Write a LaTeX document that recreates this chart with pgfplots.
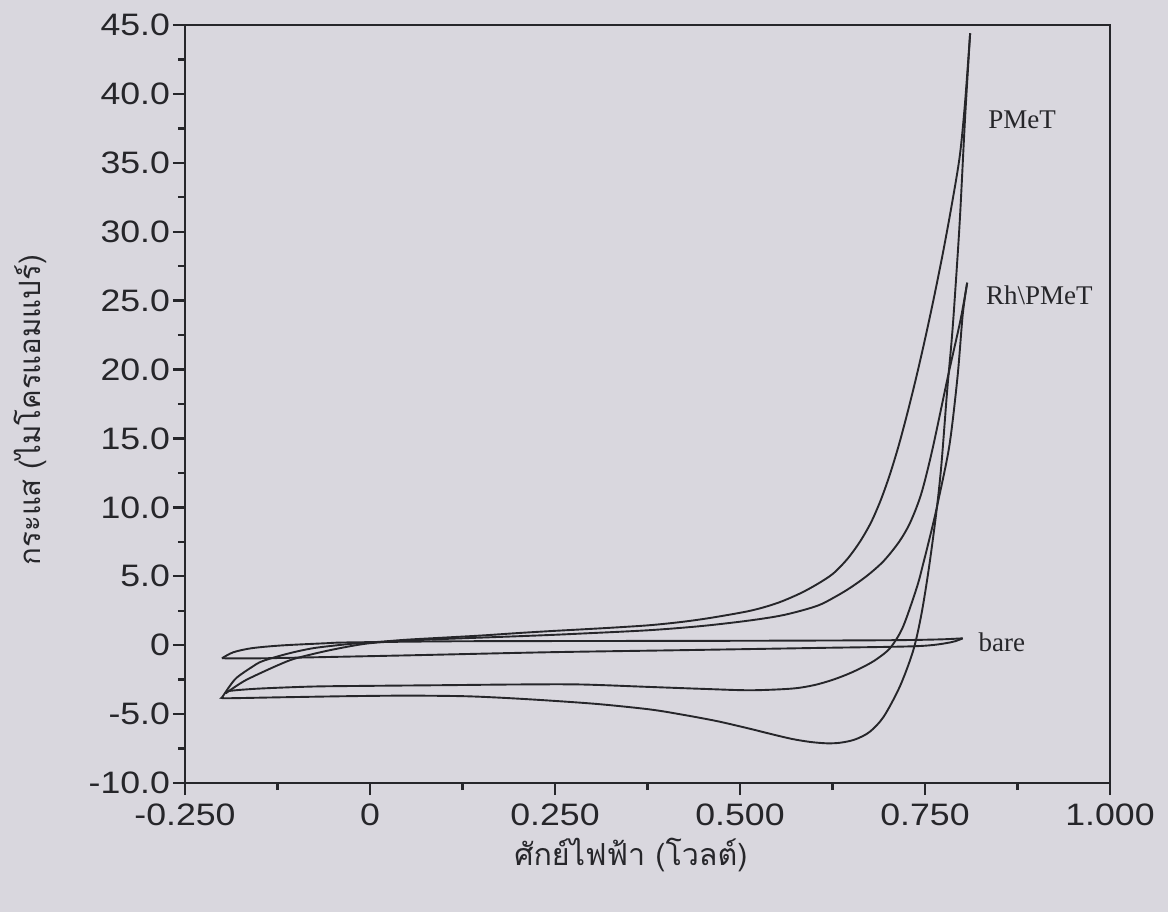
\documentclass[border=0pt]{standalone}
\usepackage{fontspec}
\usepackage{pgfplots}
\pgfplotsset{compat=1.18}
\setmainfont{Liberation Serif}
\newfontfamily\tickfont{Liberation Sans}[FakeStretch=1.15]
\newfontfamily\thaifont[Script=Thai]{Loma}
\definecolor{paper}{RGB}{217,215,222}
\definecolor{ink}{RGB}{38,38,42}

% PMeT: forward and reverse scans
\pgfplotstableread{
x y
-0.200 -3.80
-0.190 -3.00
-0.180 -2.35
-0.160 -1.60
-0.145 -1.15
-0.110 -0.60
-0.077 -0.22
-0.040 0.02
-0.014 0.15
0.014 0.25
0.050 0.40
0.100 0.55
0.150 0.70
0.200 0.88
0.243 1.02
0.284 1.14
0.330 1.28
0.378 1.45
0.420 1.68
0.460 1.98
0.514 2.50
0.550 3.05
0.581 3.75
0.605 4.45
0.626 5.20
0.645 6.25
0.662 7.50
0.677 8.90
0.690 10.50
0.702 12.30
0.714 14.40
0.726 16.80
0.738 19.40
0.750 22.20
0.762 25.20
0.774 28.40
0.786 31.90
0.797 35.50
0.804 39.30
0.811 44.40
}\pmetf
\pgfplotstableread{
x y
0.811 44.40
0.804 38.10
0.797 30.80
0.790 25.00
0.786 22.10
0.780 18.50
0.772 13.00
0.765 9.50
0.755 5.50
0.745 2.20
0.734 -0.40
0.716 -3.00
0.694 -5.20
0.675 -6.30
0.655 -6.85
0.635 -7.08
0.617 -7.12
0.595 -7.02
0.570 -6.80
0.540 -6.42
0.510 -6.02
0.468 -5.50
0.420 -5.02
0.378 -4.66
0.310 -4.28
0.243 -4.02
0.180 -3.82
0.126 -3.70
0.050 -3.66
-0.030 -3.70
-0.120 -3.78
-0.193 -3.85
-0.200 -3.80
}\pmetr

% Rh\PMeT: forward and reverse scans
\pgfplotstableread{
x y
-0.195 -3.50
-0.190 -3.30
-0.170 -2.60
-0.145 -1.95
-0.120 -1.35
-0.100 -0.95
-0.054 -0.36
-0.004 0.12
0.050 0.33
0.100 0.45
0.150 0.55
0.200 0.65
0.243 0.74
0.284 0.84
0.378 1.09
0.450 1.40
0.514 1.80
0.560 2.20
0.604 2.85
0.630 3.55
0.650 4.20
0.672 5.05
0.694 6.10
0.715 7.50
0.730 8.90
0.745 11.00
0.760 14.20
0.781 19.50
0.798 23.60
0.807 26.30
}\rhf
\pgfplotstableread{
x y
0.807 26.30
0.801 24.00
0.794 19.50
0.783 14.50
0.768 10.50
0.760 8.60
0.748 6.00
0.739 4.20
0.720 1.30
0.703 -0.20
0.685 -1.00
0.671 -1.45
0.650 -2.00
0.626 -2.50
0.600 -2.90
0.570 -3.15
0.514 -3.27
0.450 -3.17
0.378 -3.03
0.284 -2.85
0.200 -2.85
0.104 -2.90
0.000 -2.95
-0.077 -3.00
-0.150 -3.15
-0.190 -3.32
-0.195 -3.50
}\rhr

% bare electrode
\pgfplotstableread{
x y
-0.200 -0.95
-0.185 -0.52
-0.160 -0.22
-0.120 -0.02
-0.060 0.14
-0.030 0.20
0.104 0.28
0.243 0.30
0.500 0.32
0.700 0.36
0.770 0.42
0.801 0.50
}\baref
\pgfplotstableread{
x y
0.801 0.50
0.784 0.20
0.739 -0.07
0.604 -0.20
0.423 -0.36
0.243 -0.51
0.058 -0.73
-0.050 -0.85
-0.145 -0.95
-0.200 -0.95
}\barer

\begin{document}
\begin{tikzpicture}
\fill[paper] (-92.5pt,-64.5pt) rectangle (491.5pt,391.5pt);
\begin{axis}[
  scale only axis, width=462.5pt, height=379pt,
  at={(0,0)}, anchor=south west,
  xmin=-0.25, xmax=1.0, ymin=-10, ymax=45,
  axis line style={ink, line width=1.3pt},
  xtick={-0.25,0,0.25,0.5,0.75,1.0},
  xticklabels={-0.250,0,0.250,0.500,0.750,1.000},
  ytick={-10,-5,0,5,10,15,20,25,30,35,40,45},
  yticklabels={-10.0,-5.0,0,5.0,10.0,15.0,20.0,25.0,30.0,35.0,40.0,45.0},
  minor x tick num=1, minor y tick num=1,
  tick align=outside, xtick pos=bottom, ytick pos=left,
  major tick length=6pt, minor tick length=3.5pt,
  every tick/.style={ink, line width=1.2pt},
  ticklabel style={font=\tickfont\fontsize{15.5}{17}\selectfont, text=ink},
  xticklabel style={yshift=-1pt},
  yticklabel style={xshift=2pt},
  xlabel={\thaifont ศักย์ไฟฟ้า (โวลต์)},
  ylabel={\thaifont กระแส (ไมโครแอมแปร์)},
  xlabel style={at={(axis description cs:0.482,-0.095)}, anchor=center, font=\fontsize{15.2}{17}\selectfont, text=ink},
  ylabel style={at={(axis description cs:-0.167,0.492)}, anchor=center, font=\fontsize{14.7}{17}\selectfont, text=ink},
  clip=false,
]
\addplot[ink, line width=0.95pt, smooth, tension=0.5] table {\pmetf};
\addplot[ink, line width=0.95pt, smooth, tension=0.5] table {\pmetr};
\addplot[ink, line width=0.95pt, smooth, tension=0.5] table {\rhf};
\addplot[ink, line width=0.95pt, smooth, tension=0.5] table {\rhr};
\addplot[ink, line width=0.95pt, smooth, tension=0.5] table {\baref};
\addplot[ink, line width=0.95pt, smooth, tension=0.5] table {\barer};
\node[anchor=west, font=\fontsize{13.5}{15}\selectfont, text=ink] at (axis cs:0.826,38.1) {PMeT};
\node[anchor=west, font=\fontsize{13.5}{15}\selectfont, text=ink] at (axis cs:0.823,25.4) {Rh\textbackslash PMeT};
\node[anchor=west, font=\fontsize{13.5}{15}\selectfont, text=ink] at (axis cs:0.813,0.2) {bare};
\end{axis}
\end{tikzpicture}
\end{document}
